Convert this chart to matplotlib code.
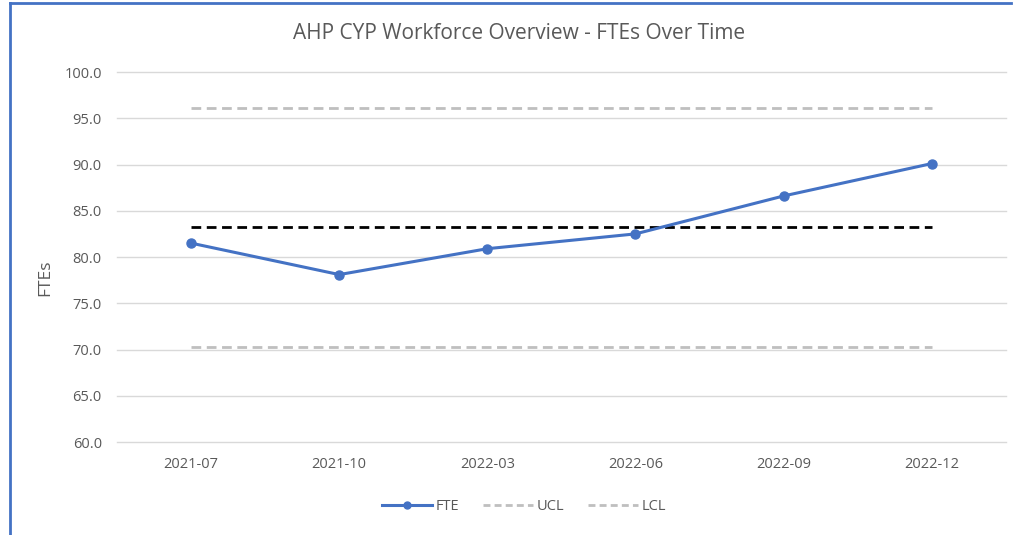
import numpy as np
import matplotlib.pyplot as plt
from matplotlib.lines import Line2D

plt.rcParams['font.family'] = ['Open Sans', 'DejaVu Sans']

months = ['2021-07', '2021-10', '2022-03', '2022-06', '2022-09', '2022-12']
fte = [81.5, 78.1, 80.9, 82.5, 86.6, 90.1]
ucl = [96.1] * 6
lcl = [70.3] * 6
mean = [83.2] * 6
yticks = [60, 65, 70, 75, 80, 85, 90, 95, 100]

TEXT = '#595959'
BLUE = '#4472C4'
GREY = '#BFBFBF'

fig = plt.figure(figsize=(10.18, 5.35), dpi=100)
ax = fig.add_axes([0.115, 0.1738, 0.873, 0.6916])

x = np.arange(len(months))
ax.plot(x, ucl, color=GREY, lw=2, dashes=(3.5, 2), label='UCL', zorder=2)
ax.plot(x, lcl, color=GREY, lw=2, dashes=(3.5, 2), label='LCL', zorder=2)
ax.plot(x, mean, color='black', lw=2, dashes=(3.5, 2), zorder=3)
ax.plot(x, fte, color=BLUE, lw=2.2, marker='o', ms=6.5, label='FTE', zorder=4)

ax.set_xlim(-0.5, len(months) - 0.5)
ax.set_ylim(60, 100)
ax.set_yticks(yticks)
ax.set_yticklabels(['%.1f' % v for v in yticks])
ax.set_xticks(x)
ax.set_xticklabels(months)
ax.tick_params(axis='both', length=0, colors=TEXT, labelsize=10.5)
ax.tick_params(axis='y', pad=11)
ax.tick_params(axis='x', pad=11)
for v in yticks:
    ax.axhline(v, color='#D9D9D9', lw=1, zorder=1, clip_on=False)
for s in ax.spines.values():
    s.set_visible(False)

ax.set_ylabel('FTEs', color=TEXT, fontsize=12.5)
ax.yaxis.set_label_coords(-0.072, 0.443)
fig.text(0.51, 0.937, 'AHP CYP Workforce Overview - FTEs Over Time',
         ha='center', va='center', color=TEXT, fontsize=15)

handles = [
    Line2D([], [], color=BLUE, lw=2.2, marker='o', ms=5),
    Line2D([], [], color=GREY, lw=2, dashes=(2.5, 1.5)),
    Line2D([], [], color=GREY, lw=2, dashes=(2.5, 1.5)),
]
leg = fig.legend(handles, ['FTE', 'UCL', 'LCL'], loc='center', ncol=3,
                 bbox_to_anchor=(0.515, 0.053), frameon=False, fontsize=10.5,
                 handlelength=3.4, handletextpad=0.3, columnspacing=1.6)
for t in leg.get_texts():
    t.set_color(TEXT)

# chart frame (left and top edges visible)
fig.add_artist(Line2D([0.0095, 0.0095], [0, 0.995], color=BLUE, lw=2,
                      transform=fig.transFigure))
fig.add_artist(Line2D([0.0095, 0.993], [0.994, 0.994], color=BLUE, lw=2,
                      transform=fig.transFigure))

fig.savefig('out.png', dpi=100)
